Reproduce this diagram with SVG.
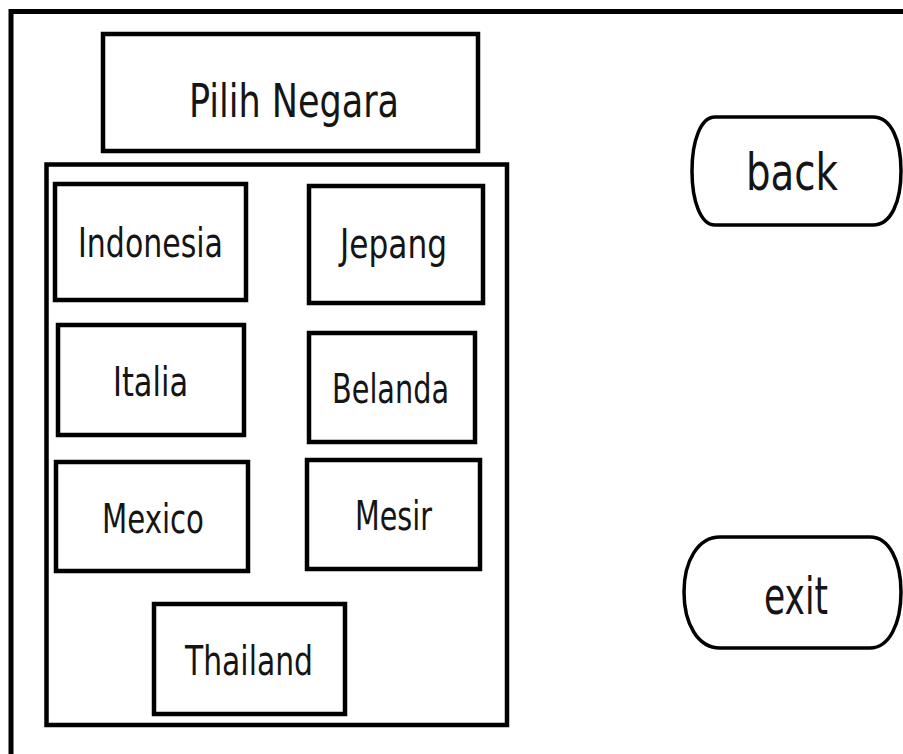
<svg xmlns="http://www.w3.org/2000/svg" width="903" height="754" viewBox="0 0 903 754">
  <style>
    .box { fill: #ffffff; stroke: #000000; stroke-width: 4.5; }
    .btn { fill: #ffffff; stroke: #000000; stroke-width: 3.5; }
    .frame { fill: none; stroke: #000000; stroke-width: 5; }
    .lbl { font-family: "DejaVu Sans Condensed", "DejaVu Sans", sans-serif; font-size: 41px; fill: #151515; }
    .title { font-size: 47px; }
    .big { font-size: 52px; }
  </style>

  <rect x="0" y="0" width="903" height="754" fill="#ffffff"/>

  <!-- window frame: top and left edges -->
  <path class="frame" d="M11,754 V11.5 H903"/>

  <g id="title">
    <rect class="box" x="103" y="34" width="375" height="117"/>
    <text class="lbl title" x="189" y="117" textLength="210" lengthAdjust="spacingAndGlyphs">Pilih Negara</text>
  </g>

  <g id="country-panel">
    <rect class="box" x="46.5" y="164.5" width="460.5" height="560.5"/>
  </g>

  <g id="indonesia">
    <rect class="box" x="55" y="184" width="191" height="116"/>
    <text class="lbl" x="78" y="257" textLength="145" lengthAdjust="spacingAndGlyphs">Indonesia</text>
  </g>

  <g id="jepang">
    <rect class="box" x="309" y="186" width="174" height="117"/>
    <text class="lbl" x="340" y="258" textLength="107" lengthAdjust="spacingAndGlyphs">Jepang</text>
  </g>

  <g id="italia">
    <rect class="box" x="58" y="325" width="186" height="110"/>
    <text class="lbl" x="113" y="396" textLength="75" lengthAdjust="spacingAndGlyphs">Italia</text>
  </g>

  <g id="belanda">
    <rect class="box" x="309" y="333" width="166" height="109"/>
    <text class="lbl" x="332" y="403" textLength="117" lengthAdjust="spacingAndGlyphs">Belanda</text>
  </g>

  <g id="mexico">
    <rect class="box" x="56" y="462" width="192" height="109"/>
    <text class="lbl" x="102" y="533" textLength="102" lengthAdjust="spacingAndGlyphs">Mexico</text>
  </g>

  <g id="mesir">
    <rect class="box" x="307" y="460" width="173" height="109"/>
    <text class="lbl" x="355" y="530" textLength="77" lengthAdjust="spacingAndGlyphs">Mesir</text>
  </g>

  <g id="thailand">
    <rect class="box" x="154" y="604" width="191" height="110"/>
    <text class="lbl" x="185" y="675" textLength="128" lengthAdjust="spacingAndGlyphs">Thailand</text>
  </g>

  <g id="back">
    <path class="btn" d="M715,117 H873 C891,117 901,140 901,171 C901,202 891,225 873,225 H715 C701,225 692,202 692,171 C692,140 701,117 715,117 Z"/>
    <text class="lbl big" x="746" y="190" textLength="92" lengthAdjust="spacingAndGlyphs">back</text>
  </g>

  <g id="exit">
    <path class="btn" d="M720,537 H870 C889,537 901,561 901,592 C901,624 889,648 870,648 H720 C698,648 684,624 684,592 C684,561 698,537 720,537 Z"/>
    <text class="lbl big" x="764" y="614" textLength="64" lengthAdjust="spacingAndGlyphs">exit</text>
  </g>

  <g id="connectors"/>
</svg>
